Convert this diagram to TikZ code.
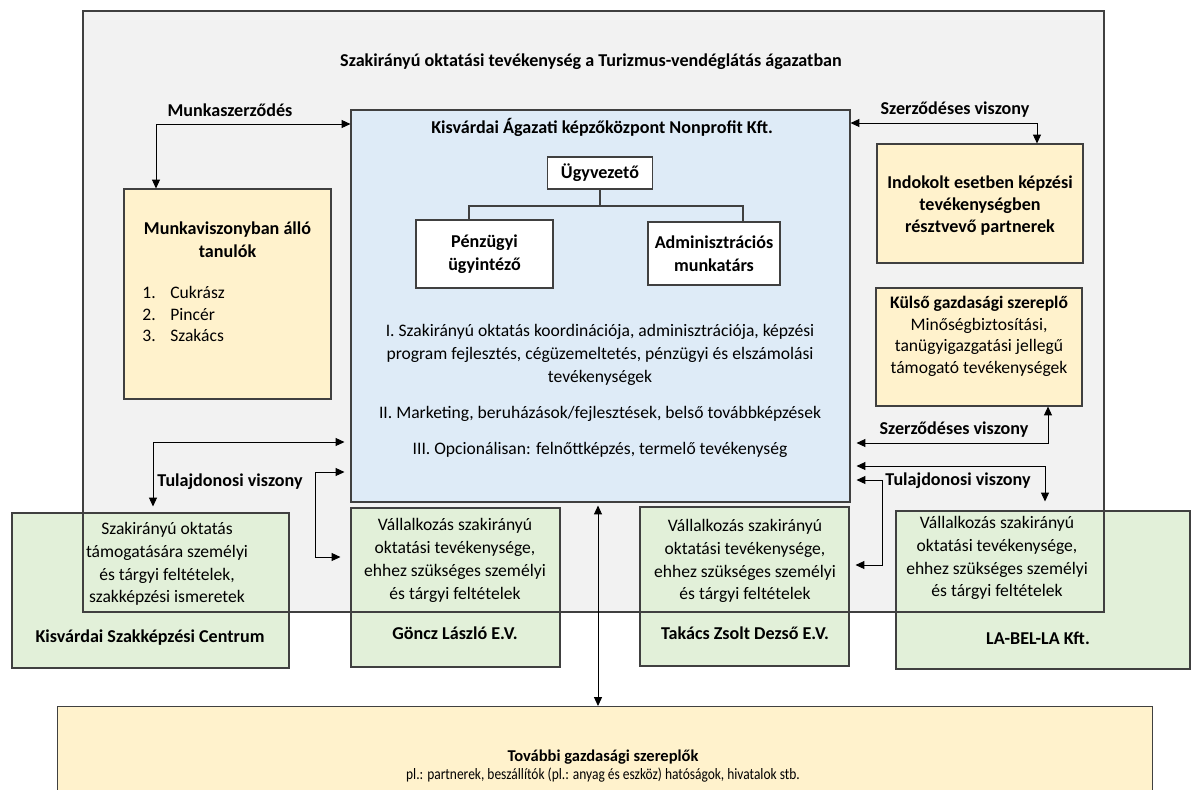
\documentclass[tikz,border=0pt]{standalone}
\usepackage{fontspec}
\setmainfont{Carlito}
\usetikzlibrary{arrows.meta}

\definecolor{bgGray}{HTML}{F2F2F2}
\definecolor{kftBlue}{HTML}{DEEBF7}
\definecolor{partYellow}{HTML}{FFF2CC}
\definecolor{ownGreen}{HTML}{E2F0D9}
\definecolor{edgeGray}{HTML}{404040}
\newcommand{\pxu}{0.02cm}

\begin{document}
\begin{tikzpicture}[x=0.02cm,y=-0.02cm,
    font=\fontsize{10}{13}\selectfont,
    every node/.style={inner sep=0pt, align=center},
    box/.style={draw=edgeGray, line width=0.6pt, rectangle},
    wbox/.style={box, fill=white, font=\fontsize{10.3}{13}\selectfont\bfseries},
    ybox/.style={box, fill=partYellow},
    gbox/.style={box, fill=ownGreen},
    lbl/.style={font=\fontsize{10.3}{13}\selectfont\bfseries},
    rel/.style={draw=black, line width=0.5pt,
        {Triangle[length=5pt,width=4.5pt]}-{Triangle[length=5pt,width=4.5pt]}}]
\clip (0,0) rectangle (1193,789);

% sector frame
\fill[bgGray] (83,11) rectangle (1104,612);
\node[lbl] (title) at (591,62) {Szakirányú oktatási tevékenység a Turizmus-vendéglátás ágazatban};

% training centre
\node[box, fill=kftBlue, minimum width=499*\pxu, minimum height=392*\pxu] (kft) at (600.5,306) {};
\node[lbl] (kftT) at (602,127) {Kisvárdai Ágazati képzőközpont Nonprofit Kft.};
\node[wbox, minimum width=105*\pxu, minimum height=32*\pxu] (ugy) at (600,173) {Ügyvezető};
\node[wbox, minimum width=137*\pxu, minimum height=68*\pxu] (penz) at (484.5,254) {Pénzügyi\\ügyintéző};
\node[wbox, minimum width=132*\pxu, minimum height=63*\pxu] (admin) at (714,253.5) {Adminisztrációs\\munkatárs};
\coordinate (fork) at (600,206);
\draw[edgeGray, line width=0.6pt] (ugy.south) -- (fork);
\draw[edgeGray, line width=0.6pt] ([xshift=-15.5*\pxu]penz.north) |- (fork) -| ([xshift=29*\pxu]admin.north);

\node (act1) at (600,355) {I. Szakirányú oktatás koordinációja, adminisztrációja, képzési\\program fejlesztés, cégüzemeltetés, pénzügyi és elszámolási\\tevékenységek};
\node (act2) at (600,414) {II. Marketing, beruházások/fejlesztések, belső továbbképzések};
\node (act3) at (600,450) {III. Opcionálisan: felnőttképzés, termelő tevékenység};

% partners
\node[ybox, minimum width=207*\pxu, minimum height=210*\pxu] (tanulok) at (227.5,294) {};
\node[lbl] (tanulokT) at (227.5,239.5) {Munkaviszonyban álló\\tanulók};
\node[anchor=west, align=left, font=\fontsize{10}{12}\selectfont] (szakmak) at (142,314)
    {\makebox[0.56cm][l]{1.}Cukrász\\\makebox[0.56cm][l]{2.}Pincér\\\makebox[0.56cm][l]{3.}Szakács};

\node[ybox, minimum width=206*\pxu, minimum height=119*\pxu] (indokolt) at (980,203.5) {};
\node[lbl, font=\fontsize{10.3}{12.5}\selectfont\bfseries] (indokoltT) at (980,206)
    {Indokolt esetben képzési\\tevékenységben\\résztvevő partnerek};

\node[ybox, minimum width=206*\pxu, minimum height=118*\pxu] (kulso) at (979,347) {};
\node[font=\fontsize{10}{12.3}\selectfont] (kulsoT) at (979,336.5)
    {\textbf{Külső gazdasági szereplő}\\Minőségbiztosítási,\\tanügyigazgatási jellegű\\támogató tevékenységek};

% owners
\node[gbox, minimum width=277*\pxu, minimum height=155*\pxu] (kszc) at (150.5,590.5) {};
\node (kszcT) at (167,564) {Szakirányú oktatás\\támogatására személyi\\és tárgyi feltételek,\\szakképzési ismeretek};
\node[lbl] (kszcN) at (150,638) {Kisvárdai Szakképzési Centrum};

\node[gbox, minimum width=209*\pxu, minimum height=159*\pxu] (goncz) at (455.5,587.5) {};
\node (gonczT) at (455,560.5) {Vállalkozás szakirányú\\oktatási tevékenysége,\\ehhez szükséges személyi\\és tárgyi feltételek};
\node[lbl] (gonczN) at (455,633) {Göncz László E.V.};

\node[gbox, minimum width=209*\pxu, minimum height=159*\pxu] (takacs) at (744.5,586.5) {};
\node (takacsT) at (745,561) {Vállalkozás szakirányú\\oktatási tevékenysége,\\ehhez szükséges személyi\\és tárgyi feltételek};
\node[lbl] (takacsN) at (745,633) {Takács Zsolt Dezső E.V.};

\node[gbox, minimum width=294*\pxu, minimum height=158*\pxu] (labella) at (1043,590) {};
\node (labellaT) at (997,558) {Vállalkozás szakirányú\\oktatási tevékenysége,\\ehhez szükséges személyi\\és tárgyi feltételek};
\node[lbl] (labellaN) at (1038,638) {LA-BEL-LA Kft.};

\draw[edgeGray, line width=0.6pt] (83,11) rectangle (1104,612);

% other actors
\node[ybox, anchor=north west, minimum width=1095*\pxu, minimum height=100*\pxu] (tovabbi) at (57,706) {};
\node[font=\fontsize{9.4}{9.8}\selectfont] (tovabbiT) at (603,766)
    {\textbf{További gazdasági szereplők}\\\scalebox{0.85}[1]{\fontsize{9}{9.8}\selectfont pl.: partnerek, beszállítók (pl.: anyag és eszköz) hatóságok, hivatalok stb.}};

% relations
\coordinate (mk) at (156,124);
\coordinate (sz1) at (1037,123);
\coordinate (sz2) at (1048,443);
\coordinate (tu1) at (1045,466);
\coordinate (tu2) at (882,480);
\coordinate (tu2b) at (882,565);
\coordinate (tl1) at (153,442);
\coordinate (tl2) at (315,472);
\coordinate (tl2b) at (315,557);
\coordinate (vc) at (598,0);

\draw[rel] (tanulok.north -| mk) |- (kft.west |- mk);
\draw[rel] (kft.east |- sz1) -| (indokolt.north -| sz1);
\draw[rel, shorten <=0.12cm] (kft.east |- sz2) -| (kulso.south -| sz2);
\draw[rel, shorten <=0.12cm, shorten >=0.18cm] (kft.east |- tu1) -| (labella.north -| tu1);
\draw[rel, shorten <=0.12cm, shorten >=0.12cm] (kft.east |- tu2) -- (tu2) -- (tu2b) -- (takacs.east |- tu2b);
\draw[rel, shorten <=0.12cm, shorten >=0.12cm] (kszc.north -| tl1) |- (kft.west |- tl1);
\draw[rel, shorten <=0.12cm, shorten >=0.2cm] (kft.west |- tl2) -- (tl2) -- (tl2b) -- (goncz.west |- tl2b);
\draw[rel, shorten <=0.06cm] (kft.south -| vc) -- (tovabbi.north -| vc);

\node[lbl] (mkL) at (230,110) {Munkaszerződés};
\node[lbl] (sz1L) at (955,110) {Szerződéses viszony};
\node[lbl] (sz2L) at (954,430) {Szerződéses viszony};
\node[lbl] (tu1L) at (958,481) {Tulajdonosi viszony};
\node[lbl] (tl1L) at (230,482) {Tulajdonosi viszony};
\end{tikzpicture}
\end{document}
